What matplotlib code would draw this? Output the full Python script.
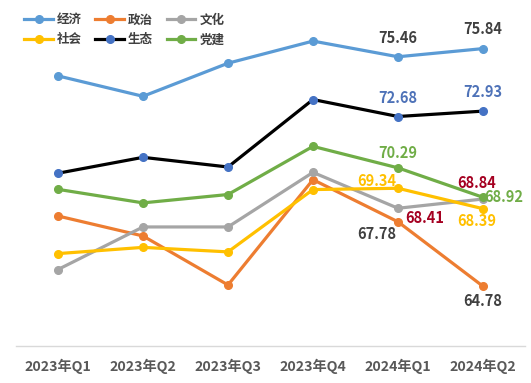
import matplotlib
matplotlib.use('Agg')
import matplotlib.pyplot as plt

plt.rcParams['font.family'] = ['Noto Sans CJK SC', 'DejaVu Sans']

# data
quarters = ['2023年Q1', '2023年Q2', '2023年Q3', '2023年Q4', '2024年Q1', '2024年Q2']
jingji = [74.57, 73.62, 75.16, 76.19, 75.46, 75.84]    # 经济
zhengzhi = [68.05, 67.12, 64.84, 69.74, 67.78, 64.78]  # 政治
wenhua = [65.56, 67.54, 67.54, 70.08, 68.41, 68.84]    # 文化
shehui = [66.30, 66.59, 66.38, 69.28, 69.34, 68.39]    # 社会
shengtai = [70.04, 70.78, 70.33, 73.47, 72.68, 72.93]  # 生态
dangjian = [69.29, 68.66, 69.05, 71.29, 70.29, 68.92]  # 党建

# annotated values: (series, index, text, dx px, dy px, colour)
labels = [
    (jingji, 4, '75.46', 0, 19, '#404040'),
    (jingji, 5, '75.84', 0, 20, '#404040'),
    (shengtai, 4, '72.68', 0, 19, '#4E72B8'),
    (shengtai, 5, '72.93', 0, 19, '#4E72B8'),
    (dangjian, 4, '70.29', 0, 15, '#70AD47'),
    (shehui, 4, '69.34', -21, 7, '#FFC000'),
    (wenhua, 5, '68.84', -6, 16, '#A50021'),
    (dangjian, 5, '68.92', 21, 0, '#70AD47'),
    (zhengzhi, 4, '68.41', 27, 4, '#A50021'),
    (zhengzhi, 4, '67.78', -21, -12, '#404040'),
    (shehui, 5, '68.39', -6, -12, '#FFC000'),
    (zhengzhi, 5, '64.78', 0, -15, '#404040'),
]

fig = plt.figure(figsize=(5.31, 3.83), dpi=100)
ax = fig.add_axes([0.0292, 0.0966, 0.9604, 0.8977])

x = range(len(quarters))
lw = 2.3
ms = 5.5
l1, = ax.plot(x, jingji, color='#5B9BD5', lw=lw, marker='o', ms=ms, label='经济')
l2, = ax.plot(x, zhengzhi, color='#ED7D31', lw=lw, marker='o', ms=ms, label='政治')
l3, = ax.plot(x, wenhua, color='#A5A5A5', lw=lw, marker='o', ms=ms, label='文化')
l4, = ax.plot(x, shehui, color='#FFC000', lw=lw, marker='o', ms=ms, label='社会')
l5, = ax.plot(x, shengtai, color='black', lw=lw, marker='o', ms=ms,
              mfc='#4472C4', mec='#4472C4', label='生态')
l6, = ax.plot(x, dangjian, color='#70AD47', lw=lw, marker='o', ms=ms, label='党建')

for series, i, txt, dx, dy, c in labels:
    ax.annotate(txt, (i, series[i]), xytext=(dx * 0.72, dy * 0.72),
                textcoords='offset points', ha='center', va='center',
                fontsize=10.5, fontweight='bold', color=c)

ax.set_xlim(-0.5, 5.5)
ax.set_ylim(62, 78)
ax.set_xticks(list(x))
ax.set_xticklabels(quarters, fontsize=10.2, fontweight='bold', color='#595959')
ax.tick_params(axis='x', length=0, pad=9)
ax.set_yticks([])
for s in ['top', 'right', 'left']:
    ax.spines[s].set_visible(False)
ax.spines['bottom'].set_color('#D9D9D9')
ax.spines['bottom'].set_linewidth(1)

leg = ax.legend([l1, l4, l2, l5, l3, l6], ['经济', '社会', '政治', '生态', '文化', '党建'],
                ncol=3, loc='upper left', bbox_to_anchor=(-0.005, 1.0), frameon=False,
                handlelength=2.3, handletextpad=0.3, columnspacing=1.1, labelspacing=0.55,
                prop={'size': 9, 'weight': 'bold'})
for t in leg.get_texts():
    t.set_color('#404040')

fig.savefig('out.png', dpi=100)
